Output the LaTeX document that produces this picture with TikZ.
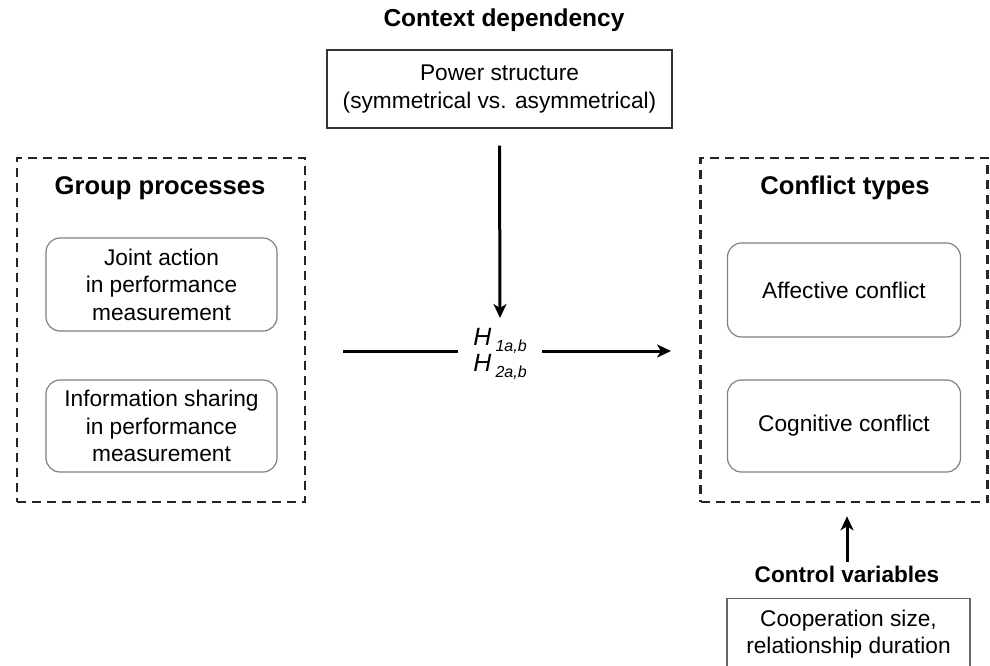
\documentclass[tikz,border=0pt]{standalone}
\usepackage{fontspec}
\setmainfont{Liberation Sans}
\usetikzlibrary{arrows.meta}
\begin{document}
\begin{tikzpicture}[x=1pt,y=-1pt,
  every node/.style={font=\fontsize{22.7}{27.5}\selectfont, align=center, inner sep=0pt},
  title/.style={font=\fontsize{24.5}{28}\selectfont\bfseries},
  bigtitle/.style={font=\fontsize{25.6}{28}\selectfont\bfseries},
  smalltitle/.style={font=\fontsize{22.6}{28}\selectfont\bfseries},
  dashbox/.style={draw=black!85, line width=2.6pt, dash pattern=on 9pt off 6pt},
  roundbox/.style={draw=black!50, line width=1.2pt, rounded corners=14pt},
  plainbox/.style={draw=black!60, line width=1.2pt},
  arr/.style={line width=3pt, -{Stealth[length=14pt,width=13pt,inset=4pt]}},
  ln/.style={line width=3pt}]
\useasboundingbox (0,0) rectangle (990,665);

% context
\node[title] (ctxt) at (504,20) {Context dependency};
\node[plainbox, draw=black!80, minimum width=345pt, minimum height=78pt] (power) at (499.5,89) {Power structure\\(symmetrical vs. asymmetrical)};

% left group
\node[dashbox, minimum width=288pt, minimum height=344pt] (gp) at (161,330) {};
\node[bigtitle] (gpt) at (160,188) {Group processes};
\node[roundbox, minimum width=231pt, minimum height=93pt] (ja) at (161.5,284.5) {Joint action\\in performance\\measurement};
\node[roundbox, minimum width=231pt, minimum height=92pt] (is) at (161.5,426) {Information sharing\\in performance\\measurement};

% right group
\node[dashbox, minimum width=287pt, minimum height=344pt] (ct) at (844,330) {};
\node[bigtitle] (ctt) at (845,188) {Conflict types};
\node[roundbox, minimum width=233pt, minimum height=94pt] (aff) at (844,290) {Affective conflict};
\node[roundbox, minimum width=233pt, minimum height=92pt] (cog) at (844,426) {Cognitive conflict};

% hypotheses
\node (hyp) at (500,354) {\fontsize{25}{30}\selectfont\itshape H\,\raisebox{-6pt}{\fontsize{16}{16}\selectfont\itshape 1a,b}\\[-2pt]\fontsize{25}{30}\selectfont\itshape H\,\raisebox{-6pt}{\fontsize{16}{16}\selectfont\itshape 2a,b}};
\coordinate (lstart) at (343,351);
\coordinate (lend) at (458,351);
\coordinate (rstart) at (542,351);
\coordinate (rend) at (671,351);
\draw[ln] (lstart) -- (lend);
\draw[arr] (rstart) -- (rend);
\draw[arr] (power.south) ++(0,17) -- (500,318);

% control
\node[smalltitle] (cvt) at (847,574) {Control variables};
\draw[arr] (cvt.north) ++(0,-4) -- ([yshift=-13pt]ct.south -| cvt.north);
\node[plainbox, minimum width=243pt, minimum height=80pt, anchor=north] (cv) at (848.5,598) {};
\node (cvtext) at (848.5,634) {Cooperation size,\\relationship duration};
\end{tikzpicture}
\end{document}
